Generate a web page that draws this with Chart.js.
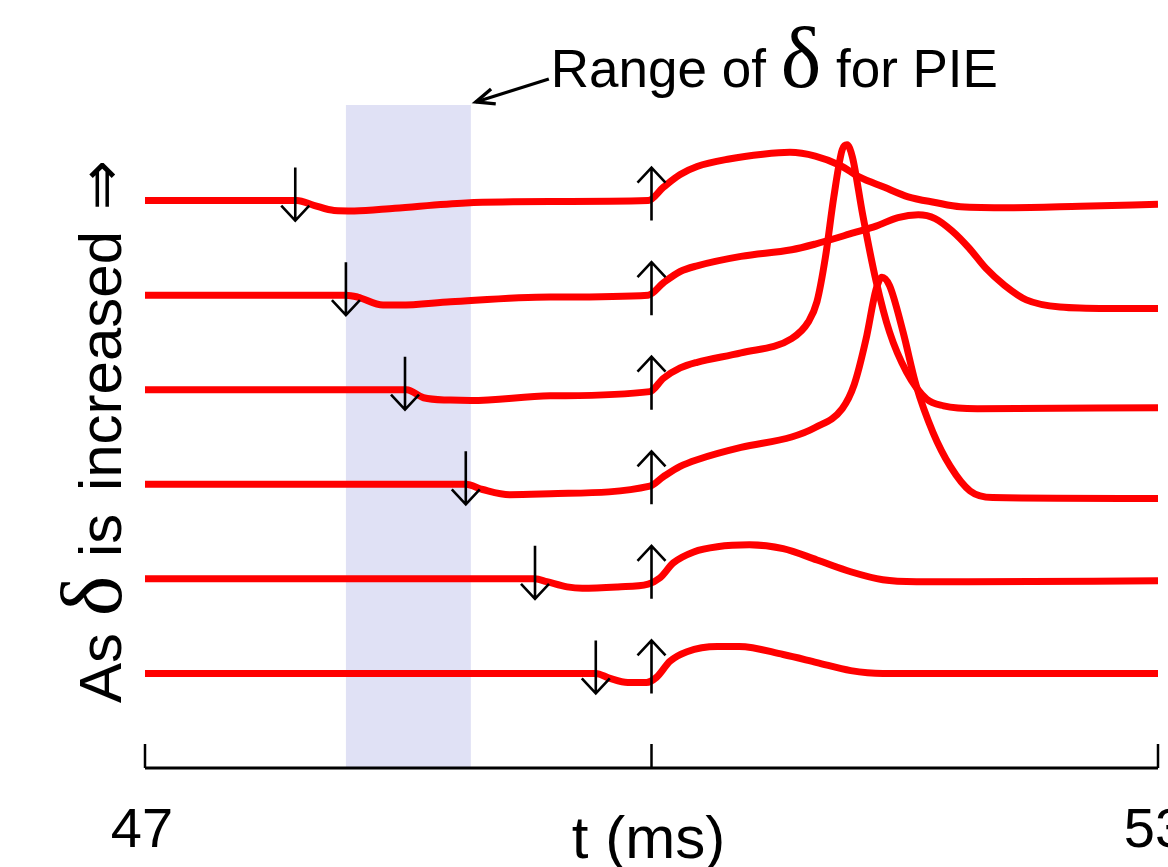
<!DOCTYPE html>
<html>
<head>
<meta charset="utf-8">
<script src="https://cdn.jsdelivr.net/npm/chart.js@4.4.1/dist/chart.umd.min.js"></script>
<style>
  html, body { margin: 0; padding: 0; background: #fff; }
  #chart { display: block; }
</style>
</head>
<body>
<canvas id="chart" width="1168" height="867"></canvas>
<script>
// time axis (ms)
const xTicks = [47, 50, 53];
const xTickLabels = ['47', '', '53'];
const xTitle = 't (ms)';

// onset of the first (inhibitory) pulse for each trace, and of the second pulse
const deltaOnsets = [47.89, 48.19, 48.54, 48.90, 49.31, 49.67];
const secondOnset = 50.0;
const pieRange = [48.19, 48.93];

// vertical offset between stacked traces
const traceSpacing = 10;

// traces, top to bottom: time (ms) and deflection from rest
const t1 = [47.0, 47.90, 48.00, 48.12, 48.24, 48.48, 48.90, 49.40, 49.98, 50.07, 50.17, 50.27, 50.46, 50.66, 50.82, 50.97, 51.12, 51.23, 51.38, 51.52, 51.68, 51.83, 52.12, 52.54, 53.0];
const v1 = [0, 0, -0.5, -1.05, -1.1, -0.8, -0.25, -0.1, 0, 1.4, 2.75, 3.6, 4.4, 4.9, 5.1, 4.7, 3.7, 2.5, 1.4, 0.4, -0.2, -0.65, -0.75, -0.6, -0.4];

const t2 = [47.0, 48.19, 48.26, 48.41, 48.51, 48.81, 49.40, 49.98, 50.07, 50.17, 50.27, 50.53, 50.83, 50.97, 51.20, 51.33, 51.46, 51.58, 51.68, 51.78, 51.88, 51.98, 52.09, 52.22, 52.42, 52.70, 53.0];
const v2 = [0, 0, -0.2, -1.05, -1.05, -0.7, -0.2, 0, 1.3, 2.5, 3.1, 4.1, 4.8, 5.4, 6.6, 7.3, 8.2, 8.5, 8.1, 6.8, 5.0, 2.85, 1.05, -0.5, -1.25, -1.4, -1.4];

const t3 = [47.0, 48.55, 48.65, 48.81, 48.93, 49.40, 49.99, 50.07, 50.17, 50.27, 50.53, 50.83, 50.93, 50.98, 51.03, 51.08, 51.13, 51.158, 51.19, 51.25, 51.33, 51.41, 51.51, 51.63, 51.73, 51.93, 53.0];
const v3 = [0, 0, -0.85, -1.1, -1.15, -0.65, -0.2, 1.2, 2.3, 2.9, 3.9, 5.4, 7.2, 9.3, 14.0, 20.4, 25.4, 25.9, 24.6, 18.6, 11.5, 6.1, 1.9, -1.0, -1.7, -2.0, -1.9];

const t4 = [47.0, 48.90, 49.00, 49.16, 49.40, 49.99, 50.07, 50.17, 50.27, 50.53, 50.83, 50.97, 51.13, 51.20, 51.27, 51.33, 51.365, 51.41, 51.49, 51.567, 51.667, 51.77, 51.887, 52.02, 53.0];
const v4 = [0, 0, -0.55, -1.1, -1.0, -0.2, 0.8, 1.9, 2.6, 3.9, 5.0, 6.0, 8.0, 10.5, 15.3, 20.6, 21.9, 21.0, 16.1, 10.5, 5.5, 1.9, -0.7, -1.4, -1.5];

const t5 = [47.0, 49.31, 49.38, 49.50, 49.59, 49.80, 49.98, 50.05, 50.13, 50.25, 50.39, 50.58, 50.78, 50.98, 51.18, 51.37, 51.57, 51.87, 53.0];
const v5 = [0, 0, -0.3, -0.85, -1.0, -0.85, -0.55, 0.1, 1.7, 2.85, 3.4, 3.6, 3.2, 2.0, 0.75, -0.1, -0.3, -0.3, -0.2];

const t6 = [47.0, 49.67, 49.75, 49.86, 49.97, 50.03, 50.11, 50.21, 50.39, 50.52, 50.78, 50.98, 51.18, 51.37, 53.0];
const v6 = [0, 0, -0.5, -0.95, -0.95, -0.4, 1.3, 2.3, 2.85, 2.85, 2.0, 1.15, 0.3, 0, 0];

const traces = [[t1, v1], [t2, v2], [t3, v3], [t4, v4], [t5, v5], [t6, v6]];

const RED = '#ff0000';
const BAND = '#e0e1f5';
const SANS = '"Liberation Sans", Arial, "DejaVu Sans", sans-serif';
const SERIF = '"Liberation Serif", "Times New Roman", serif';

function restLevel(i) {
  return (traces.length - 1 - i) * traceSpacing;
}

function arrow(ctx, x, yTop, yBot, up) {
  const tipY = up ? yTop : yBot;
  const dir = up ? 1 : -1;
  ctx.beginPath();
  ctx.moveTo(x, yTop);
  ctx.lineTo(x, yBot);
  ctx.moveTo(x - 14, tipY + dir * 15);
  ctx.lineTo(x, tipY);
  ctx.lineTo(x + 14, tipY + dir * 15);
  ctx.stroke();
}

// draws runs of [text, font, extra gap after] one after another from (x, y)
function textRun(ctx, parts, x, y) {
  for (const [s, font, gap = 0] of parts) {
    ctx.font = font;
    ctx.fillText(s, x, y);
    x += ctx.measureText(s).width + gap;
  }
}

const decorations = {
  id: 'decorations',
  beforeDatasetsDraw(chart) {
    const { ctx, chartArea, scales: { x } } = chart;
    const x0 = x.getPixelForValue(pieRange[0]);
    const x1 = x.getPixelForValue(pieRange[1]);
    ctx.save();
    ctx.fillStyle = BAND;
    ctx.fillRect(x0, chartArea.top - 1, x1 - x0, chartArea.bottom - chartArea.top + 1);
    ctx.restore();
  },
  afterDatasetsDraw(chart) {
    const { ctx, chartArea, scales: { x, y } } = chart;
    ctx.save();
    ctx.strokeStyle = '#000';
    ctx.fillStyle = '#000';
    ctx.lineCap = 'butt';

    // stimulus arrows on each trace
    ctx.lineWidth = 2.6;
    traces.forEach((_, i) => {
      const yr = y.getPixelForValue(restLevel(i));
      arrow(ctx, x.getPixelForValue(deltaOnsets[i]), yr - 33, yr + 20, false);
      arrow(ctx, x.getPixelForValue(secondOnset), yr - 33, yr + 20, true);
    });

    // time axis with inward ticks
    const ay = chartArea.bottom;
    ctx.lineWidth = 3;
    ctx.beginPath();
    ctx.moveTo(x.getPixelForValue(xTicks[0]), ay);
    ctx.lineTo(x.getPixelForValue(xTicks[xTicks.length - 1]), ay);
    ctx.stroke();
    ctx.lineWidth = 2.5;
    xTicks.forEach((v) => {
      const px = x.getPixelForValue(v);
      ctx.beginPath();
      ctx.moveTo(px, ay);
      ctx.lineTo(px, ay - 24);
      ctx.stroke();
    });

    ctx.textAlign = 'center';
    ctx.textBaseline = 'alphabetic';
    ctx.font = `56px ${SANS}`;
    xTicks.forEach((v, i) => {
      if (xTickLabels[i]) ctx.fillText(xTickLabels[i], x.getPixelForValue(v) - 3, ay + 79);
    });
    ctx.font = `60px ${SANS}`;
    ctx.fillText(xTitle, x.getPixelForValue(50) - 3, ay + 90);

    // side label, reading upwards
    ctx.textAlign = 'left';
    ctx.save();
    ctx.translate(121, 703);
    ctx.rotate(-Math.PI / 2);
    textRun(ctx, [
      ['As ', `60px ${SANS}`],
      ['\u03b4', `86px ${SERIF}`, 2],
      [' is ', `60px ${SANS}`, 6],
      ['increased ', `60px ${SANS}`, 4],
      ['\u21d2', `60px "DejaVu Sans", ${SANS}`],
    ], 0, 0);
    ctx.restore();

    // callout for the shaded band
    const tipX = x.getPixelForValue(pieRange[1]) + 5;
    const tipY = chartArea.top - 4;
    const tailX = tipX + 73, tailY = tipY - 23;
    ctx.lineWidth = 3.4;
    ctx.beginPath();
    ctx.moveTo(tailX, tailY);
    ctx.lineTo(tipX, tipY);
    ctx.stroke();
    const ang = Math.atan2(tailY - tipY, tailX - tipX);
    ctx.beginPath();
    ctx.moveTo(tipX + 20 * Math.cos(ang + 0.4), tipY + 20 * Math.sin(ang + 0.4));
    ctx.lineTo(tipX, tipY);
    ctx.lineTo(tipX + 20 * Math.cos(ang - 0.4), tipY + 20 * Math.sin(ang - 0.4));
    ctx.stroke();
    textRun(ctx, [
      ['Range of ', `53px ${SANS}`],
      ['\u03b4', `86px ${SERIF}`],
      [' for PIE', `53px ${SANS}`],
    ], tailX + 2, 87);

    ctx.restore();
  },
};

new Chart(document.getElementById('chart'), {
  type: 'line',
  data: {
    datasets: traces.map(([t, v], i) => ({
      data: t.map((tv, k) => ({ x: tv, y: restLevel(i) + v[k] })),
      borderColor: RED,
      borderWidth: 7,
      pointRadius: 0,
      fill: false,
      cubicInterpolationMode: 'monotone',
    })),
  },
  options: {
    responsive: false,
    animation: false,
    devicePixelRatio: 1,
    layout: { padding: { left: 145, right: 10, top: 106, bottom: 99 } },
    plugins: { legend: { display: false }, tooltip: { enabled: false } },
    scales: {
      x: { type: 'linear', min: 47, max: 53, display: false },
      y: { min: -traceSpacing, max: 6 * traceSpacing, display: false },
    },
  },
  plugins: [decorations],
});
</script>
</body>
</html>
